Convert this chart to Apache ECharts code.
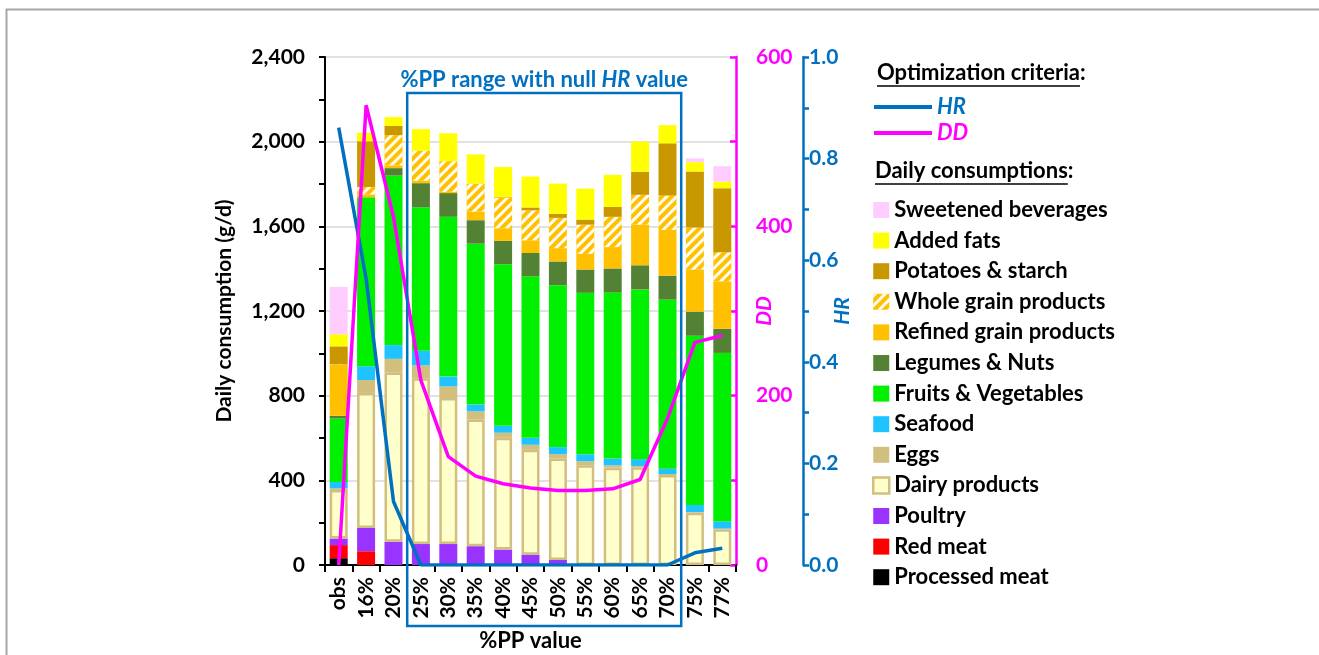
<!DOCTYPE html>
<html>
<head>
<meta charset="utf-8">
<script src="https://cdn.jsdelivr.net/npm/echarts@6/dist/echarts.min.js"></script>
<style>
  html, body { margin: 0; padding: 0; background: #fff; }
  #chart { width: 1319px; height: 655px; }
</style>
</head>
<body>
<div id="chart"></div>
<script>
// categories (%PP value)
const categories = ['obs', '16%', '20%', '25%', '30%', '35%', '40%', '45%', '50%', '55%', '60%', '65%', '70%', '75%', '77%'];

// daily consumptions (g/d), stacked bottom -> top
const processedMeat = [32, 0, 0, 0, 0, 0, 0, 0, 0, 0, 0, 0, 0, 0, 0];
const redMeat       = [62, 65, 0, 0, 0, 0, 0, 0, 0, 0, 0, 0, 0, 0, 0];
const poultry       = [31, 110, 110, 99, 99, 89, 73, 49, 24, 0, 0, 0, 0, 0, 0];
const dairy         = [229, 638, 799, 783, 690, 598, 528, 495, 479, 471, 460, 462, 425, 247, 169];
const eggs          = [8, 61, 65, 61, 55, 39, 24, 24, 21, 19, 11, 6, 5, 3, 3];
const seafood       = [30, 65, 65, 69, 46, 32, 33, 33, 33, 33, 32, 32, 25, 34, 34];
const fruitsVeg     = [300, 798, 801, 678, 755, 760, 763, 763, 765, 763, 785, 802, 799, 799, 796];
const legumesNuts   = [13, 0, 35, 114, 112, 111, 110, 110, 112, 110, 113, 114, 113, 114, 114];
const refinedGrain  = [240, 13, 13, 11, 6, 40, 60, 60, 63, 74, 101, 192, 216, 199, 224];
const wholeGrain    = [3, 36, 143, 142, 145, 133, 143, 142, 143, 138, 143, 141, 163, 199, 138];
const potatoes      = [85, 216, 43, 0, 0, 0, 3, 13, 19, 24, 47, 109, 246, 264, 302];
const addedFats     = [57, 41, 42, 102, 132, 138, 143, 146, 143, 146, 151, 143, 86, 44, 31];
const sweetBev      = [224, 0, 0, 0, 0, 0, 0, 0, 0, 0, 0, 0, 0, 18, 73];

// optimization criteria
const hrValues = [0.861, 0.564, 0.125, 0, 0, 0, 0, 0, 0, 0, 0, 0, 0, 0.024, 0.033];
const ddValues = [0, 543, 411, 218, 128, 105, 96, 91, 88, 88, 90, 101, 173, 263, 271];

// axis ticks
const leftTicks = { min: 0, max: 2400, interval: 400 };
const ddTicks = { min: 0, max: 600, interval: 200 };
const hrTicks = { min: 0, max: 1, interval: 0.2 };

const FONT = 'Lato';
const BLUE = '#0070C0';
const MAGENTA = '#FF00FF';

const barDefs = [
  { name: 'Processed meat', data: processedMeat, color: '#000000' },
  { name: 'Red meat', data: redMeat, color: '#FF0000' },
  { name: 'Poultry', data: poultry, color: '#9933FF' },
  { name: 'Dairy products', data: dairy, color: '#FFFFCC', border: '#D2BF7E' },
  { name: 'Eggs', data: eggs, color: '#D2BF7E' },
  { name: 'Seafood', data: seafood, color: '#1EC3FF' },
  { name: 'Fruits & Vegetables', data: fruitsVeg, color: '#00F000' },
  { name: 'Legumes & Nuts', data: legumesNuts, color: '#548235' },
  { name: 'Refined grain products', data: refinedGrain, color: '#FFC000' },
  { name: 'Whole grain products', data: wholeGrain, color: '#FFC000', hatch: true },
  { name: 'Potatoes & starch', data: potatoes, color: '#C99800' },
  { name: 'Added fats', data: addedFats, color: '#FFFF00' },
  { name: 'Sweetened beverages', data: sweetBev, color: '#FFCCFF' }
];

const hatchDecal = {
  symbol: 'rect',
  color: 'rgba(255,255,255,0.95)',
  dashArrayX: [1, 0],
  dashArrayY: [3, 4],
  rotation: -Math.PI / 4
};

function styleOf(d) {
  const s = { color: d.color };
  if (d.border) {
    s.borderColor = d.border;
    s.borderWidth = 2.5;
  }
  if (d.hatch) s.decal = hatchDecal;
  return s;
}

const barSeries = barDefs.map(d => ({
  name: d.name,
  type: 'bar',
  stack: 'diet',
  barWidth: 18,
  yAxisIndex: 0,
  itemStyle: styleOf(d),
  emphasis: { disabled: true },
  data: d.data
}));

const labelStyle = { fontFamily: FONT, fontWeight: 'bold', fontSize: 21 };

const chart = echarts.init(document.getElementById('chart'));

const options = {
  animation: false,
  backgroundColor: '#fff',
  grid: { left: 325, right: 583, top: 57, bottom: 90, containLabel: false, outerBoundsMode: 'none' },
  xAxis: {
    type: 'category',
    data: categories,
    name: '%PP value',
    nameLocation: 'middle',
    nameGap: 65,
    nameMoveOverlap: false,
    nameTextStyle: { fontFamily: FONT, fontWeight: 'bold', fontSize: 22, color: '#000' },
    axisLine: { lineStyle: { color: '#000', width: 2 } },
    axisTick: { show: true, length: 7, lineStyle: { color: '#000', width: 2 } },
    axisLabel: Object.assign({ rotate: 90, interval: 0, color: '#000', margin: 12 }, labelStyle),
    splitLine: { show: false }
  },
  yAxis: [
    {
      type: 'value',
      position: 'left',
      min: leftTicks.min, max: leftTicks.max, interval: leftTicks.interval,
      name: 'Daily consumption (g/d)',
      nameLocation: 'middle',
      nameRotate: 90,
      nameGap: 90,
      nameMoveOverlap: false,
      nameTextStyle: { fontFamily: FONT, fontWeight: 'bold', fontSize: 21, color: '#000' },
      axisLine: { show: true, lineStyle: { color: '#000', width: 2 } },
      axisTick: { show: true, length: 6, lineStyle: { color: '#000', width: 2 } },
      minorTick: { show: true, splitNumber: 2, length: 6, lineStyle: { color: '#000', width: 2 } },
      axisLabel: Object.assign({
        color: '#000', margin: 20,
        formatter: v => v.toLocaleString('en-US')
      }, labelStyle),
      splitLine: { show: true, lineStyle: { color: '#D9D9D9', width: 1.5 } }
    },
    {
      type: 'value',
      position: 'right',
      min: ddTicks.min, max: ddTicks.max, interval: ddTicks.interval,
      name: 'DD',
      nameLocation: 'middle',
      nameRotate: 90,
      nameGap: 18,
      nameMoveOverlap: false,
      nameTextStyle: { fontFamily: FONT, fontWeight: 'bold', fontStyle: 'italic', fontSize: 21, color: MAGENTA },
      axisLine: { show: true, lineStyle: { color: MAGENTA, width: 2.5 } },
      axisTick: { show: true, inside: true, length: 6, lineStyle: { color: MAGENTA, width: 2.5 } },
      minorTick: { show: true, splitNumber: 2, length: 6, lineStyle: { color: MAGENTA, width: 2.5 } },
      axisLabel: Object.assign({ color: MAGENTA, margin: 20 }, labelStyle),
      splitLine: { show: false }
    },
    {
      type: 'value',
      position: 'right',
      offset: 67,
      min: hrTicks.min, max: hrTicks.max, interval: hrTicks.interval,
      name: 'HR',
      nameLocation: 'middle',
      nameRotate: 90,
      nameGap: 29,
      nameMoveOverlap: false,
      nameTextStyle: { fontFamily: FONT, fontWeight: 'bold', fontStyle: 'italic', fontSize: 21, color: BLUE },
      axisLine: { show: true, lineStyle: { color: BLUE, width: 2.5 } },
      axisTick: { show: true, length: 6, lineStyle: { color: BLUE, width: 2.5 } },
      minorTick: { show: true, splitNumber: 2, length: 6, lineStyle: { color: BLUE, width: 2.5 } },
      axisLabel: Object.assign({ color: BLUE, margin: 6, formatter: v => v.toFixed(1) }, labelStyle),
      splitLine: { show: false }
    }
  ],
  legend: [
    {
      orient: 'vertical',
      left: 869,
      top: 91,
      itemWidth: 58,
      itemHeight: 4,
      itemGap: 4,
      selectedMode: false,
      icon: 'rect',
      textStyle: { fontFamily: FONT, fontWeight: 'bold', fontStyle: 'italic', fontSize: 22, lineHeight: 22 },
      data: [
        { name: 'HR', textStyle: { color: BLUE } },
        { name: 'DD', textStyle: { color: MAGENTA } }
      ]
    },
    {
      orient: 'vertical',
      left: 867,
      top: 194,
      itemWidth: 16,
      itemHeight: 16,
      itemGap: 8.6,
      icon: 'rect',
      selectedMode: false,
      textStyle: { fontFamily: FONT, fontWeight: 'bold', fontSize: 22, lineHeight: 22, color: '#000' },
      data: barDefs.slice().reverse().map(d => ({ name: d.name, itemStyle: styleOf(d) }))
    }
  ],
  series: barSeries.concat([
    {
      name: 'HR',
      type: 'line',
      yAxisIndex: 2,
      symbol: 'none',
      z: 5,
      lineStyle: { color: BLUE, width: 3.5 },
      itemStyle: { color: BLUE },
      data: hrValues
    },
    {
      name: 'DD',
      type: 'line',
      yAxisIndex: 1,
      symbol: 'none',
      z: 6,
      lineStyle: { color: MAGENTA, width: 3.5 },
      itemStyle: { color: MAGENTA },
      data: ddValues
    }
  ])
};

chart.setOption(options);

// measure text width for underlines
const ctx = document.createElement('canvas').getContext('2d');
function textWidth(str, size) {
  ctx.font = 'bold ' + size + 'px ' + FONT;
  return ctx.measureText(str).width;
}

// box around the %PP range with null HR value (from scale positions)
const x25 = chart.convertToPixel({ xAxisIndex: 0 }, '25%');
const x30 = chart.convertToPixel({ xAxisIndex: 0 }, '30%');
const x70 = chart.convertToPixel({ xAxisIndex: 0 }, '70%');
const band = x30 - x25;
const boxTop = chart.convertToPixel({ yAxisIndex: 0 }, 2230);
const axisY = chart.convertToPixel({ yAxisIndex: 0 }, 0);
const boxLeft = x25 - band / 2;
const boxRight = x70 + band / 2;
const boxBottom = axisY + 61;

const t1 = 'Optimization criteria';
const t2 = 'Daily consumptions';

chart.setOption({
  graphic: [
    {
      type: 'polyline',
      shape: { points: [[6.5, 655], [6.5, 9.5], [1319, 9.5]] },
      style: { stroke: '#A6A6A6', lineWidth: 2, fill: null },
      silent: true
    },
    {
      type: 'rect',
      shape: { x: boxLeft, y: boxTop, width: boxRight - boxLeft, height: boxBottom - boxTop },
      style: { stroke: BLUE, lineWidth: 2.5, fill: null },
      z: 10,
      silent: true
    },
    {
      type: 'text',
      x: (boxLeft + boxRight) / 2,
      y: boxTop - 13,
      style: {
        text: '{a|%PP range with null }{b|HR}{a| value}',
        align: 'center',
        verticalAlign: 'middle',
        rich: {
          a: { fontFamily: FONT, fontWeight: 'bold', fontSize: 22, fill: BLUE },
          b: { fontFamily: FONT, fontWeight: 'bold', fontStyle: 'italic', fontSize: 22, fill: BLUE }
        }
      },
      z: 10
    },
    {
      type: 'text',
      x: 877,
      y: 73,
      style: {
        text: t1 + ':',
        fontFamily: FONT, fontWeight: 'bold', fontSize: 22, fill: '#000',
        verticalAlign: 'middle'
      }
    },
    {
      type: 'line',
      shape: { x1: 877, y1: 86, x2: 877 + textWidth(t1, 22), y2: 86 },
      style: { stroke: '#000', lineWidth: 1.5 }
    },
    {
      type: 'text',
      x: 875,
      y: 171,
      style: {
        text: t2 + ':',
        fontFamily: FONT, fontWeight: 'bold', fontSize: 22, fill: '#000',
        verticalAlign: 'middle'
      }
    },
    {
      type: 'line',
      shape: { x1: 875, y1: 184, x2: 875 + textWidth(t2, 22), y2: 184 },
      style: { stroke: '#000', lineWidth: 1.5 }
    }
  ]
});
</script>
</body>
</html>
